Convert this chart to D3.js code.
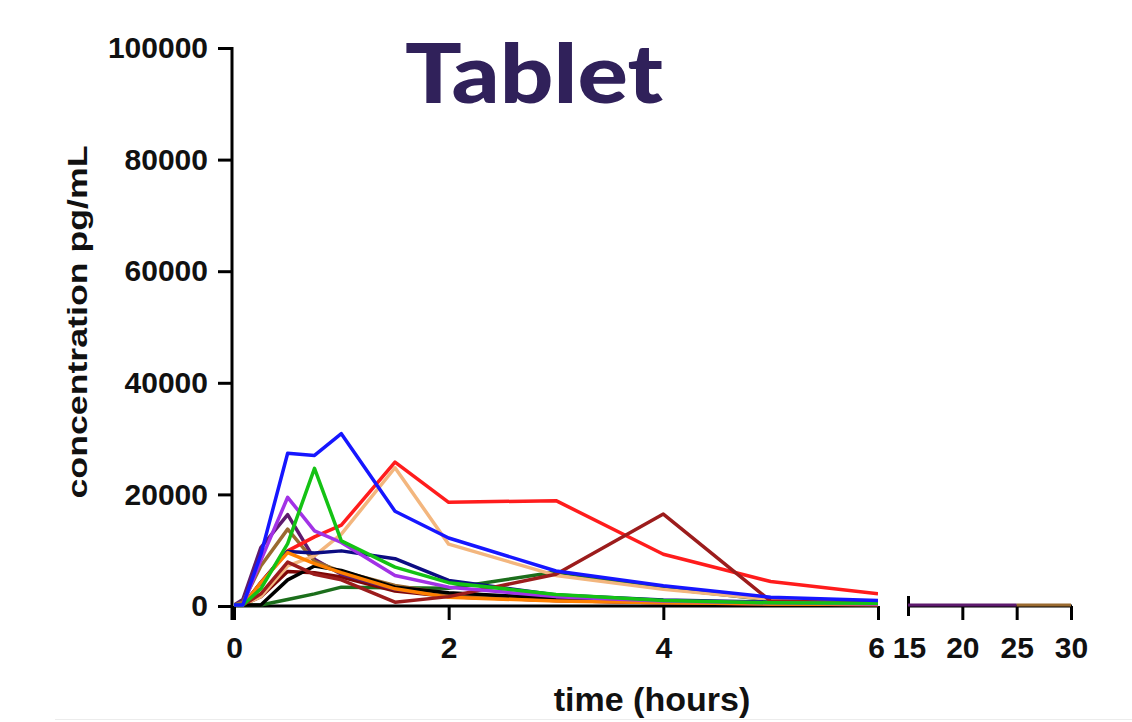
<!DOCTYPE html>
<html>
<head>
<meta charset="utf-8">
<script src="https://cdn.jsdelivr.net/npm/d3@7"></script>
<style>
  body { margin: 0; background: #fff; }
  svg { display: block; }
  .tick text { font-family: "Liberation Sans", Arial, sans-serif; font-weight: bold; }
</style>
</head>
<body>
<svg id="chart" width="1132" height="722"></svg>
<script>
// sampling times (hours), last three are on the broken right-hand part of the axis
var times = [0, 0.083, 0.25, 0.5, 0.75, 1, 1.5, 2, 3, 4, 5, 6, 15, 25, 30];

// one list per subject, pg/mL, null = not sampled
var dkgreen  = [0, 0, 0, 1000, 2000, 3200, 3100, 3000, 5900, 3000, 900, 400, null, null, null];
var maroon   = [0, 0, 1500, 6000, 5800, 5000, 2500, 1500, 800, 400, 200, 100, null, null, null];
var dkpurple = [0, 1000, 10300, 16200, 8200, 5500, 2800, 1500, 800, 400, 200, 100, 0, 0, null];
var brown    = [0, 500, 7000, 13600, 7800, 6000, 3500, 2000, 1000, 500, 200, 100, null, 0, 0];
var tan      = [0, 0, 1500, 7000, 8800, 12700, 24600, 10900, 5300, 2800, 1000, 500, null, null, null];
var red      = [0, 0, 4000, 9700, 12200, 14300, 25600, 18400, 18700, 9100, 4200, 2000, null, null, null];
var navy     = [0, 0, 4000, 9600, 9300, 9700, 8300, 4400, 1800, 900, 500, 400, null, null, null];
var black    = [0, 0, 0, 4500, 7000, 6200, 3200, 2200, 1200, 600, 300, 200, null, null, null];
var orange   = [0, 0, 4000, 9400, 7400, 5800, 2900, 1400, 700, 400, 200, 100, null, null, null];
var darkred  = [0, 0, 2000, 7700, 5500, 4500, 500, 1500, 5500, 16300, 700, 300, null, null, null];
var violet   = [0, 0, 8000, 19300, 13300, 11200, 5300, 3200, 1500, 700, 400, 200, null, null, null];
var green    = [0, 0, 2900, 11000, 24500, 11500, 6800, 4000, 1900, 800, 400, 300, null, null, null];
var blue     = [0, 0, 9000, 27200, 26800, 30700, 16800, 12000, 6100, 3450, 1400, 800, null, null, null];

var yTicks = [0, 20000, 40000, 60000, 80000, 100000];
var xTicksLeft = [0, 2, 4, 6];
var xTicksRight = [15, 20, 25, 30];

var series = [
    { values: dkgreen,  color: "#1b6e1b" },
    { values: maroon,   color: "#7d0606" },
    { values: dkpurple, color: "#5e1a6e" },
    { values: brown,    color: "#9a6a30" },
    { values: tan,      color: "#f3b67e" },
    { values: red,      color: "#ff1c1c" },
    { values: navy,     color: "#0c0c82" },
    { values: black,    color: "#000000" },
    { values: orange,   color: "#ff8000" },
    { values: darkred,  color: "#9c1c1c" },
    { values: violet,   color: "#a232e6" },
    { values: green,    color: "#14c214" },
    { values: blue,     color: "#1616ff" }
];

var svg = d3.select("#chart");

var xL = d3.scaleLinear().domain([0, 6]).range([234, 878]);
var xR = d3.scaleLinear().domain([15, 30]).range([908, 1071]);
var y = d3.scaleLinear().domain([0, 100000]).range([606, 48]);

// faint rule at the very bottom of the picture
svg.append("line")
    .attr("x1", 55).attr("x2", 1132)
    .attr("y1", 719.5).attr("y2", 719.5)
    .attr("stroke", "#ececec");

// axes
var yAxis = svg.append("g")
    .attr("transform", "translate(232,0)")
    .call(d3.axisLeft(y).tickValues(yTicks).tickSize(14).tickPadding(10).tickFormat(d3.format("d")));

var xAxisL = svg.append("g")
    .attr("transform", "translate(0,606)")
    .call(d3.axisBottom(xL).tickValues(xTicksLeft).tickSize(14).tickPadding(17).tickFormat(d3.format("d")));

var xAxisR = svg.append("g")
    .attr("transform", "translate(0,606)")
    .call(d3.axisBottom(xR).tickValues(xTicksRight).tickSize(14).tickPadding(17).tickFormat(d3.format("d")));

[yAxis, xAxisL, xAxisR].forEach(function (a) {
    a.select(".domain").attr("stroke", "#000").attr("stroke-width", 3);
    a.selectAll(".tick line").attr("stroke", "#000").attr("stroke-width", 3);
    a.selectAll(".tick text").attr("fill", "#111").style("font-size", "30px");
});
// break marker at the start of the right part
xAxisR.selectAll(".tick").filter(function (d) { return d === 15; })
    .select("line").attr("y1", -10).attr("y2", 10);
xAxisR.selectAll(".tick text").filter(function (d) { return d === 15; }).attr("dx", 1);
xAxisL.selectAll(".tick text").filter(function (d) { return d === 6; }).attr("dx", -2);
yAxis.select(".domain").attr("d", "M-14,48.5H0V620");
xAxisL.select(".domain").attr("d", "M234,0H878");
xAxisR.select(".domain").attr("d", "M908,0H1072");

// data lines, drawn over the axes as in the original
svg.append("clipPath").attr("id", "clipL")
    .append("rect").attr("x", 234).attr("y", 40).attr("width", 644).attr("height", 568);
svg.append("clipPath").attr("id", "clipR")
    .append("rect").attr("x", 908).attr("y", 40).attr("width", 164).attr("height", 568);

function pointsOf(s, lo, hi) {
    return times.map(function (t, i) { return { t: t, v: s.values[i] }; })
        .filter(function (d) { return d.t >= lo && d.t <= hi; });
}

var lineL = d3.line()
    .defined(function (d) { return d.v !== null; })
    .x(function (d) { return xL(d.t); })
    .y(function (d) { return y(d.v) - 1; });
var lineR = d3.line()
    .defined(function (d) { return d.v !== null; })
    .x(function (d) { return xR(d.t); })
    .y(function (d) { return y(d.v) - 1; });

svg.append("g").attr("clip-path", "url(#clipL)")
    .selectAll("path")
    .data(series)
    .enter()
    .append("path")
    .attr("d", function (s) { return lineL(pointsOf(s, 0, 6)); })
    .attr("fill", "none")
    .attr("stroke", function (s) { return s.color; })
    .attr("stroke-width", 3.5)
    .attr("stroke-linejoin", "round");

svg.append("g").attr("clip-path", "url(#clipR)")
    .selectAll("path")
    .data(series)
    .enter()
    .append("path")
    .attr("d", function (s) { return lineR(pointsOf(s, 15, 30)); })
    .attr("fill", "none")
    .attr("stroke", function (s) { return s.color; })
    .attr("stroke-width", 3);

// labels
svg.append("text")
    .attr("x", 652).attr("y", 711)
    .attr("text-anchor", "middle")
    .style("font-family", "Liberation Sans, Arial, sans-serif")
    .style("font-weight", "bold")
    .style("font-size", "34px")
    .attr("fill", "#111")
    .text("time (hours)");

svg.append("text")
    .attr("transform", "translate(87,322) rotate(-90)")
    .attr("text-anchor", "middle")
    .attr("textLength", 353)
    .attr("lengthAdjust", "spacingAndGlyphs")
    .style("font-family", "Liberation Sans, Arial, sans-serif")
    .style("font-weight", "bold")
    .style("font-size", "27px")
    .attr("fill", "#111")
    .text("concentration pg/mL");

svg.append("text")
    .attr("x", 534).attr("y", 103)
    .attr("text-anchor", "middle")
    .attr("textLength", 258)
    .attr("lengthAdjust", "spacingAndGlyphs")
    .style("font-family", "Lato, sans-serif")
    .style("font-weight", "900")
    .style("font-size", "81px")
    .attr("fill", "#30215a")
    .text("Tablet");
</script>
</body>
</html>
